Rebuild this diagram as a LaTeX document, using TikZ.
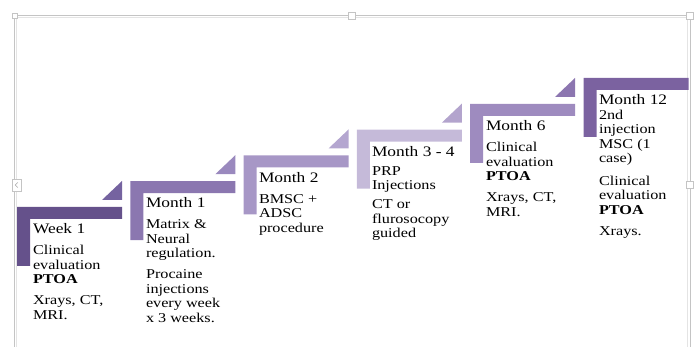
\documentclass[tikz,border=0pt]{standalone}
\usepackage{fontspec}
\setmainfont{Liberation Serif}[FakeStretch=1.2]
\definecolor{cA}{HTML}{65518B}
\definecolor{tA}{HTML}{7563A0}
\definecolor{cB}{HTML}{8B77B0}
\definecolor{tB}{HTML}{9A89BE}
\definecolor{cC}{HTML}{A797C6}
\definecolor{tC}{HTML}{B4A6D0}
\definecolor{cD}{HTML}{C5BAD9}
\definecolor{tD}{HTML}{B3A4CD}
\definecolor{cE}{HTML}{9E8BBF}
\definecolor{tE}{HTML}{8C76B0}
\definecolor{cF}{HTML}{7B62A0}
\definecolor{frameA}{HTML}{C4C4C4}
\definecolor{frameB}{HTML}{E4E4E4}
\newcommand{\hd}{\fontsize{14.5}{14.5}\selectfont}
\newcommand{\stepshape}[4]{% left, top, bar colour, triangle colour
  \fill[#3] (#1,#2) -- ++(105,0) -- ++(0,12) -- ++(-92,0) -- ++(0,47) -- ++(-13,0) -- cycle;
  \ifx#4\relax\else
  \fill[#4] (#1+85,#2-7) -- (#1+105,#2-7) -- (#1+105,#2-26) -- cycle;
  \fi
}
\begin{document}
\begin{tikzpicture}[x=1pt,y=-1pt,
  txt/.style={anchor=base west,inner sep=0pt,outer sep=0pt,font=\fontsize{13.5}{14.5}\selectfont,text=black},
  handle/.style={draw=frameA,fill=white,line width=0.6pt}]
\useasboundingbox (0,0) rectangle (696,347);
% selection frame
\draw[frameA,line width=0.8pt] (14,360) -- (14,15) -- (690,15) -- (690,360);
\draw[frameB,line width=0.8pt] (16.8,360) -- (16.8,17.5) -- (687.5,17.5) -- (687.5,360);
\draw[handle] (12,13) rectangle (17,18);
\draw[handle] (348.5,12.5) rectangle (355.5,19);
\draw[handle] (686.5,12.5) rectangle (693,19);
\draw[handle] (686.5,181.5) rectangle (693,188.5);
\draw[handle] (12,179) rectangle (21,191);
\draw[gray!70,line width=0.6pt] (17.8,182.5) -- (15.3,185) -- (17.8,187.5);
% steps
\stepshape{17}{207}{cA}{tA}
\stepshape{130.3}{181.2}{cB}{tB}
\stepshape{243.6}{155.4}{cC}{tC}
\stepshape{356.9}{129.6}{cD}{tD}
\stepshape{470.2}{103.8}{cE}{tE}
\stepshape{583.5}{78}{cF}{\relax}
% texts
\node[txt] (s1) at (33,234) {\begin{tabular}[t]{@{}l@{}}\hd Week 1\\[6.5pt]
  Clinical\\ evaluation\\ \textbf{PTOA}\\[6.5pt] Xrays, CT,\\ MRI.\end{tabular}};
\node[txt] (s2) at (146,208) {\begin{tabular}[t]{@{}l@{}}\hd Month 1\\[6.5pt]
  Matrix \&\\ Neural\\ regulation.\\[6.5pt] Procaine\\ injections\\ every week\\ x 3 weeks.\end{tabular}};
\node[txt] (s3) at (259,182.5) {\begin{tabular}[t]{@{}l@{}}\hd Month 2\\[6.5pt]
  BMSC +\\ ADSC\\ procedure\end{tabular}};
\node[txt] (s4) at (372,156.5) {\begin{tabular}[t]{@{}l@{}}\hd Month 3 - 4\\[4.5pt]
  PRP\\ Injections\\[4.5pt] CT or\\ flurosocopy\\ guided\end{tabular}};
\node[txt] (s5) at (486,131) {\begin{tabular}[t]{@{}l@{}}\hd Month 6\\[6.5pt]
  Clinical\\ evaluation\\ \textbf{PTOA}\\[6.5pt] Xrays, CT,\\ MRI.\end{tabular}};
\node[txt] (s6) at (599,105) {\begin{tabular}[t]{@{}l@{}}\hd Month 12\\
  2nd\\ injection\\ MSC (1\\ case)\\[8pt] Clinical\\ evaluation\\ \textbf{PTOA}\\[6.5pt] Xrays.\end{tabular}};
\end{tikzpicture}
\end{document}
